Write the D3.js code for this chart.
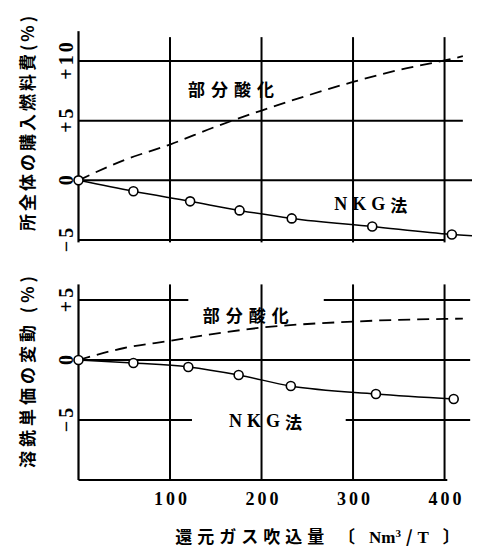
<!DOCTYPE html>
<html>
<head>
<meta charset="utf-8">
<script src="https://cdn.jsdelivr.net/npm/d3@7"></script>
<style>
  body { margin: 0; background: #fff; }
  svg { display: block; }
</style>
</head>
<body>
<div id="chart"></div>
<script>
'use strict';

// x: 還元ガス吹込量 (Nm3/T)
var xTicks = [100, 200, 300, 400];

// 上段: 所全体の購入燃料費 (%)
var topTicks = [10, 5, 0, -5];
var topPartialX = [0, 50, 100, 150, 200, 250, 300, 350, 400, 420];
var topPartialY = [0, 1.7, 3.0, 4.5, 5.85, 7.1, 8.25, 9.25, 10.05, 10.4];
var topNkgX = [0, 60, 122, 176, 233, 321, 408];
var topNkgY = [0, -0.92, -1.76, -2.52, -3.19, -3.87, -4.54];
var topNkgTail = [430, -4.65];

// 下段: 溶銑単価の変動 (%)
var botTicks = [5, 0, -5];
var botPartialX = [0, 50, 100, 150, 200, 250, 300, 350, 400, 420];
var botPartialY = [0, 1.0, 1.6, 2.2, 2.7, 3.0, 3.2, 3.35, 3.42, 3.45];
var botNkgX = [0, 60, 120, 175, 232, 325, 410];
var botNkgY = [0, -0.25, -0.58, -1.25, -2.17, -2.83, -3.25];

var labelPartial = "部分酸化";
var labelNkg = ["NKG", "法"];

var W = 489, H = 547;
var svg = d3.select("#chart").append("svg").attr("width", W).attr("height", H);

var x = d3.scaleLinear().domain([0, 430]).range([78.5, 472]);
var yTop = d3.scaleLinear().domain([-5, 10]).range([240, 61]);
var yBot = d3.scaleLinear().domain([-10, 5]).range([480, 300]);

var serif = "'Liberation Serif', 'DejaVu Serif', serif";
var cjk = "'Noto Sans CJK JP', sans-serif";

function hline(g, y, v, x0, x1) {
  g.append("line")
    .attr("x1", x(x0)).attr("x2", x(x1))
    .attr("y1", y(v)).attr("y2", y(v))
    .attr("stroke", "#000").attr("stroke-width", 2);
}

function vline(g, y, xv, v0, v1, w) {
  g.append("line")
    .attr("x1", x(xv)).attr("x2", x(xv))
    .attr("y1", y(v0)).attr("y2", y(v1))
    .attr("stroke", "#000").attr("stroke-width", w || 2);
}

function drawPanel(y, gridRows, vTop, vBottom, axisTop) {
  var g = svg.append("g");
  gridRows.forEach(function(r) {
    r.segs.forEach(function(s) { hline(g, y, r.v, s[0], s[1]); });
  });
  xTicks.forEach(function(t) { vline(g, y, t, vTop, vBottom, 2); });
  vline(g, y, 0, axisTop, vBottom, 2.2);
  return g;
}

function yAxisLabels(y, ticks) {
  var ax = d3.axisLeft(y).tickValues(ticks).tickSize(0)
    .tickFormat(function(d) { return d > 0 ? "+" + d : (d < 0 ? "\u2212" + (-d) : "0"); });
  var g = svg.append("g").attr("transform", "translate(73,0)").call(ax);
  g.select(".domain").remove();
  g.selectAll("text")
    .attr("x", 2).attr("y", 0).attr("dy", null)
    .attr("transform", "rotate(-90)")
    .attr("text-anchor", "middle")
    .style("font-family", serif).style("font-size", "20px")
    .style("letter-spacing", "3px")
    .style("font-weight", "bold").style("fill", "#000");
}

function curves(y, px, py, nx, ny, tail) {
  var line = d3.line().x(function(d) { return x(d[0]); }).y(function(d) { return y(d[1]); });
  var part = px.map(function(v, i) { return [v, py[i]]; });
  svg.append("path").attr("d", line.curve(d3.curveMonotoneX)(part))
    .attr("fill", "none").attr("stroke", "#000").attr("stroke-width", 1.8)
    .attr("stroke-dasharray", "12,7");
  var nkg = nx.map(function(v, i) { return [v, ny[i]]; });
  var pts = tail ? nkg.concat([tail]) : nkg;
  svg.append("path").attr("d", line.curve(d3.curveMonotoneX)(pts))
    .attr("fill", "none").attr("stroke", "#000").attr("stroke-width", 1.5);
  svg.append("g").selectAll("circle").data(nkg).join("circle")
    .attr("cx", function(d) { return x(d[0]); })
    .attr("cy", function(d) { return y(d[1]); })
    .attr("r", 4.5)
    .attr("fill", "#fff").attr("stroke", "#000").attr("stroke-width", 1.6);
}

function label(y, xv, yv, txt) {
  svg.append("text")
    .attr("x", x(xv)).attr("y", y(yv))
    .attr("text-anchor", "middle").attr("dominant-baseline", "central")
    .style("font-family", cjk).style("font-size", "17px")
    .style("font-weight", "bold").style("letter-spacing", "6px")
    .text(txt);
}

function labelMixed(y, xv, yv, parts) {
  var t = svg.append("text")
    .attr("x", x(xv)).attr("y", y(yv))
    .attr("text-anchor", "middle").attr("dominant-baseline", "central")
    .style("font-size", "18px").style("font-weight", "bold")
    .style("letter-spacing", "5px");
  t.append("tspan").style("font-family", serif).text(parts[0]);
  t.append("tspan").style("font-family", cjk).style("font-size", "17px").text(parts[1]);
}

// top panel
drawPanel(yTop, [
  { v: 10, segs: [[0, 420]] },
  { v: 5, segs: [[0, 420]] },
  { v: 0, segs: [[0, 430]] },
  { v: -5, segs: [[0, 400]] }
], 12, -5.2, 12.5);
yAxisLabels(yTop, topTicks);
curves(yTop, topPartialX, topPartialY, topNkgX, topNkgY, topNkgTail);
label(yTop, 170, 7.7, labelPartial);
labelMixed(yTop, 322, -2.0, labelNkg);

// bottom panel
drawPanel(yBot, [
  { v: 5, segs: [[0, 120], [268, 428]] },
  { v: 0, segs: [[0, 428]] },
  { v: -5, segs: [[0, 124], [292, 428]] },
  { v: -10, segs: [[0, 403]] }
], 6.3, -10, 6.3);
yAxisLabels(yBot, botTicks);
curves(yBot, botPartialX, botPartialY, botNkgX, botNkgY, null);
label(yBot, 186, 3.8, labelPartial);
labelMixed(yBot, 207, -5.05, labelNkg);

// x axis labels
var xa = svg.append("g").attr("transform", "translate(0,505)")
  .call(d3.axisBottom(x).tickValues(xTicks).tickSize(0).tickFormat(d3.format("d")));
xa.select(".domain").remove();
xa.selectAll("text").attr("y", 0).attr("dy", null)
  .attr("dx", "1.5px")
  .style("font-family", serif).style("font-size", "18px")
  .style("font-weight", "bold").style("letter-spacing", "3px").style("fill", "#000");

// x title
var xt = svg.append("text").attr("x", 320).attr("y", 543).attr("text-anchor", "middle")
  .style("font-family", cjk).style("font-size", "17px").style("font-weight", "bold")
  .style("letter-spacing", "5px");
xt.append("tspan").text("還元ガス吹込量 〔 ");
xt.append("tspan").style("font-family", serif).style("letter-spacing", "0px").text("Nm");
xt.append("tspan").attr("dy", -6).style("font-family", serif).style("font-size", "11px").text("3");
xt.append("tspan").attr("dy", 6).text("/");
xt.append("tspan").style("font-family", serif).text("T");
xt.append("tspan").text(" 〕");

// y titles
svg.append("text").attr("transform", "translate(26,122) rotate(-90)")
  .attr("text-anchor", "middle").attr("dominant-baseline", "central")
  .style("font-family", cjk).style("font-size", "17px").style("font-weight", "bold")
  .style("letter-spacing", "3px")
  .text("所全体の購入燃料費(%)");
svg.append("text").attr("transform", "translate(26,370) rotate(-90)")
  .attr("text-anchor", "middle").attr("dominant-baseline", "central")
  .style("font-family", cjk).style("font-size", "17px").style("font-weight", "bold")
  .style("letter-spacing", "4px")
  .text("溶銑単価の変動 (%)");
</script>
</body>
</html>
